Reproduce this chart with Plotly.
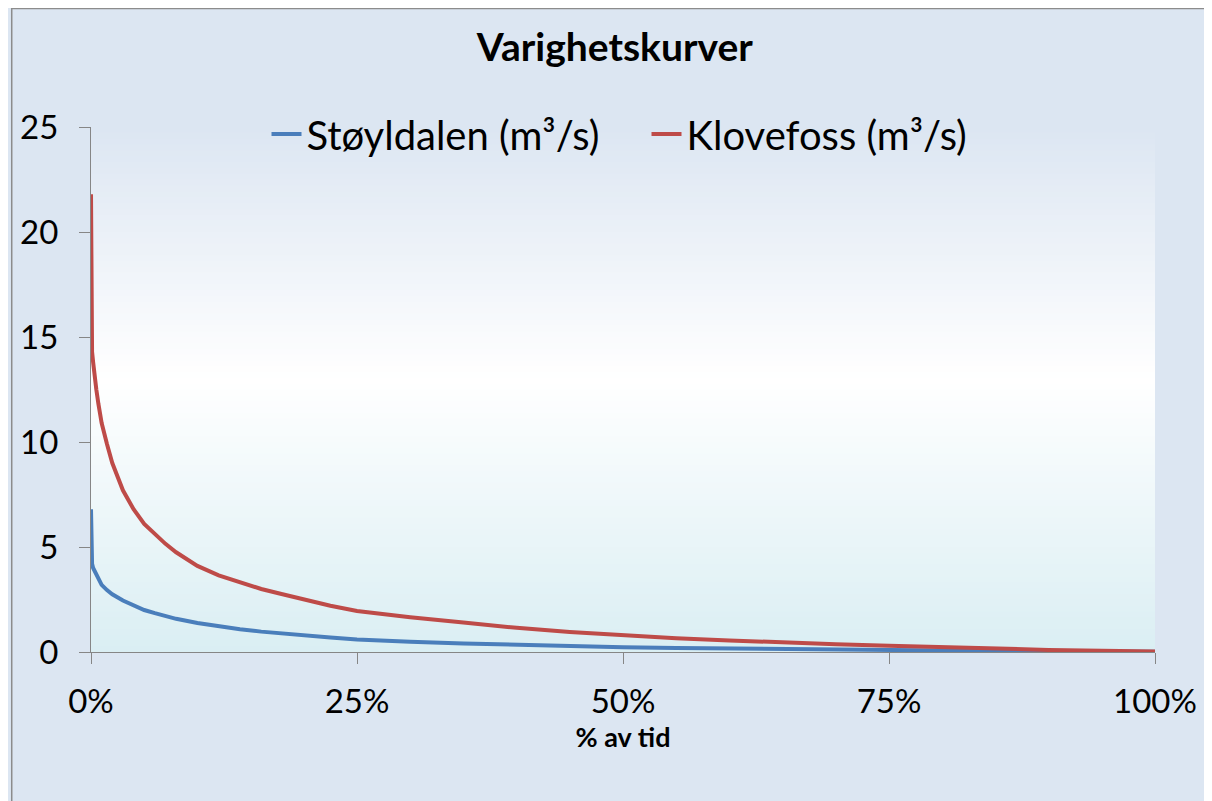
import plotly.graph_objects as go

# Share of time (%) at which each flow is exceeded
pct_time = [0, 0.02, 0.05, 0.1, 0.2, 0.3, 0.5, 0.7, 1, 1.5, 2, 3, 4, 5, 6, 7, 8, 10, 12, 14,
            16, 18, 20, 22.5, 25, 27.5, 30, 35, 40, 45, 50, 55, 60, 65, 70, 75, 80, 85, 90, 95, 100]

# Flow (m3/s)
stoyldalen = [6.8, 4.9, 4.4, 4.2, 4.0, 3.9, 3.75, 3.5, 3.2, 2.95, 2.75, 2.45, 2.2, 2.0, 1.85, 1.7,
              1.58, 1.38, 1.22, 1.08, 0.97, 0.87, 0.78, 0.69, 0.6, 0.54, 0.49, 0.41, 0.34, 0.28,
              0.23, 0.19, 0.16, 0.13, 0.11, 0.09, 0.07, 0.05, 0.04, 0.03, 0.01]
klovefoss = [21.8, 15.5, 14.8, 14.3, 13.8, 13.3, 12.5, 11.8, 10.9, 9.9, 9.0, 7.7, 6.8, 6.1, 5.6,
             5.15, 4.75, 4.1, 3.65, 3.3, 3.0, 2.75, 2.5, 2.2, 1.95, 1.8, 1.65, 1.4, 1.15, 0.95,
             0.78, 0.65, 0.55, 0.45, 0.37, 0.3, 0.22, 0.16, 0.1, 0.06, 0.02]

series_names = ["Støyldalen (m³/s)", "Klovefoss (m³/s)"]
series_colors = ["#4a7ebb", "#be4b48"]

x_ticks = [0, 25, 50, 75, 100]
x_labels = [f"{v}%" for v in x_ticks]
y_ticks = [0, 5, 10, 15, 20, 25]

FONT = "Lato, Carlito, Calibri, sans-serif"
# page body has an 8px margin, so the figure is a bit smaller than the window
W, H = 1204, 793
L, R, T, B = 80, 57, 119, 149
PW, PH = W - L - R, H - T - B

fig = go.Figure()
for name, values, color in zip(series_names, [stoyldalen, klovefoss], series_colors):
    fig.add_trace(
        go.Scatter(
            x=pct_time,
            y=values,
            mode="lines",
            name=name,
            line=dict(color=color, width=4),
        )
    )


def mix(c1, c2, t):
    return "rgb({},{},{})".format(*[round(a + (b - a) * t) for a, b in zip(c1, c2)])


# vertical gradient of the plot area: light blue -> white -> light aqua
top_c, mid_c, bot_c = (220, 230, 242), (255, 255, 255), (218, 238, 243)
white_at = 0.52
n_bands = 90
shapes = []
for i in range(n_bands):
    y0 = i / n_bands
    y1 = (i + 1) / n_bands
    yc = (y0 + y1) / 2
    if yc < white_at:
        col = mix(bot_c, mid_c, yc / white_at)
    else:
        col = mix(mid_c, top_c, (yc - white_at) / (1 - white_at))
    shapes.append(dict(type="rect", xref="x domain", yref="y domain", x0=0, x1=1, y0=y0, y1=y1 + 0.002,
                       fillcolor=col, line=dict(width=0), layer="below"))

# outer chart frame (top and left edges visible)
shapes.insert(0, dict(type="rect", xref="paper", yref="paper",
                      x0=(0.5 - L) / PW, x1=(W + 10 - L) / PW,
                      y0=(H - B - (H + 10)) / PH, y1=(H - B - 0.5) / PH,
                      fillcolor="#dce6f2", line=dict(color="#8c8c8c", width=1.5), layer="below"))

fig.update_layout(
    width=W,
    height=H,
    margin=dict(l=L, r=R, t=T, b=B),
    paper_bgcolor="#dce6f2",
    plot_bgcolor="rgba(0,0,0,0)",
    font=dict(family=FONT, color="black"),
    title=dict(text="<b>Varighetskurver</b>", x=0.504, xref="container", xanchor="center",
               y=1 - 39 / H, yref="container", yanchor="middle", font=dict(size=39, family=FONT)),
    showlegend=True,
    legend=dict(orientation="h", x=(256 - L) / PW, xanchor="left", y=(H - B - 126) / PH, yanchor="middle",
                bgcolor="rgba(0,0,0,0)", font=dict(size=40, family=FONT), itemwidth=30,
                entrywidth=335, entrywidthmode="pixels", traceorder="normal"),
    xaxis=dict(
        range=[0, 100],
        tickvals=x_ticks,
        ticktext=x_labels,
        ticks="outside",
        ticklen=11,
        tickcolor="#868686",
        showline=True,
        linecolor="#868686",
        linewidth=1,
        showgrid=False,
        zeroline=False,
        tickfont=dict(size=33, family=FONT),
        ticklabelstandoff=9,
        title=dict(text="<b>% av tid</b>", font=dict(size=27, family=FONT), standoff=8),
    ),
    yaxis=dict(
        range=[0, 25],
        tickvals=y_ticks,
        ticks="outside",
        ticklen=11,
        tickcolor="#868686",
        showline=True,
        linecolor="#868686",
        linewidth=1,
        showgrid=False,
        zeroline=False,
        tickfont=dict(size=33, family=FONT),
        ticklabelstandoff=14,
    ),
    shapes=shapes,
)

fig.write_html("out.html")
